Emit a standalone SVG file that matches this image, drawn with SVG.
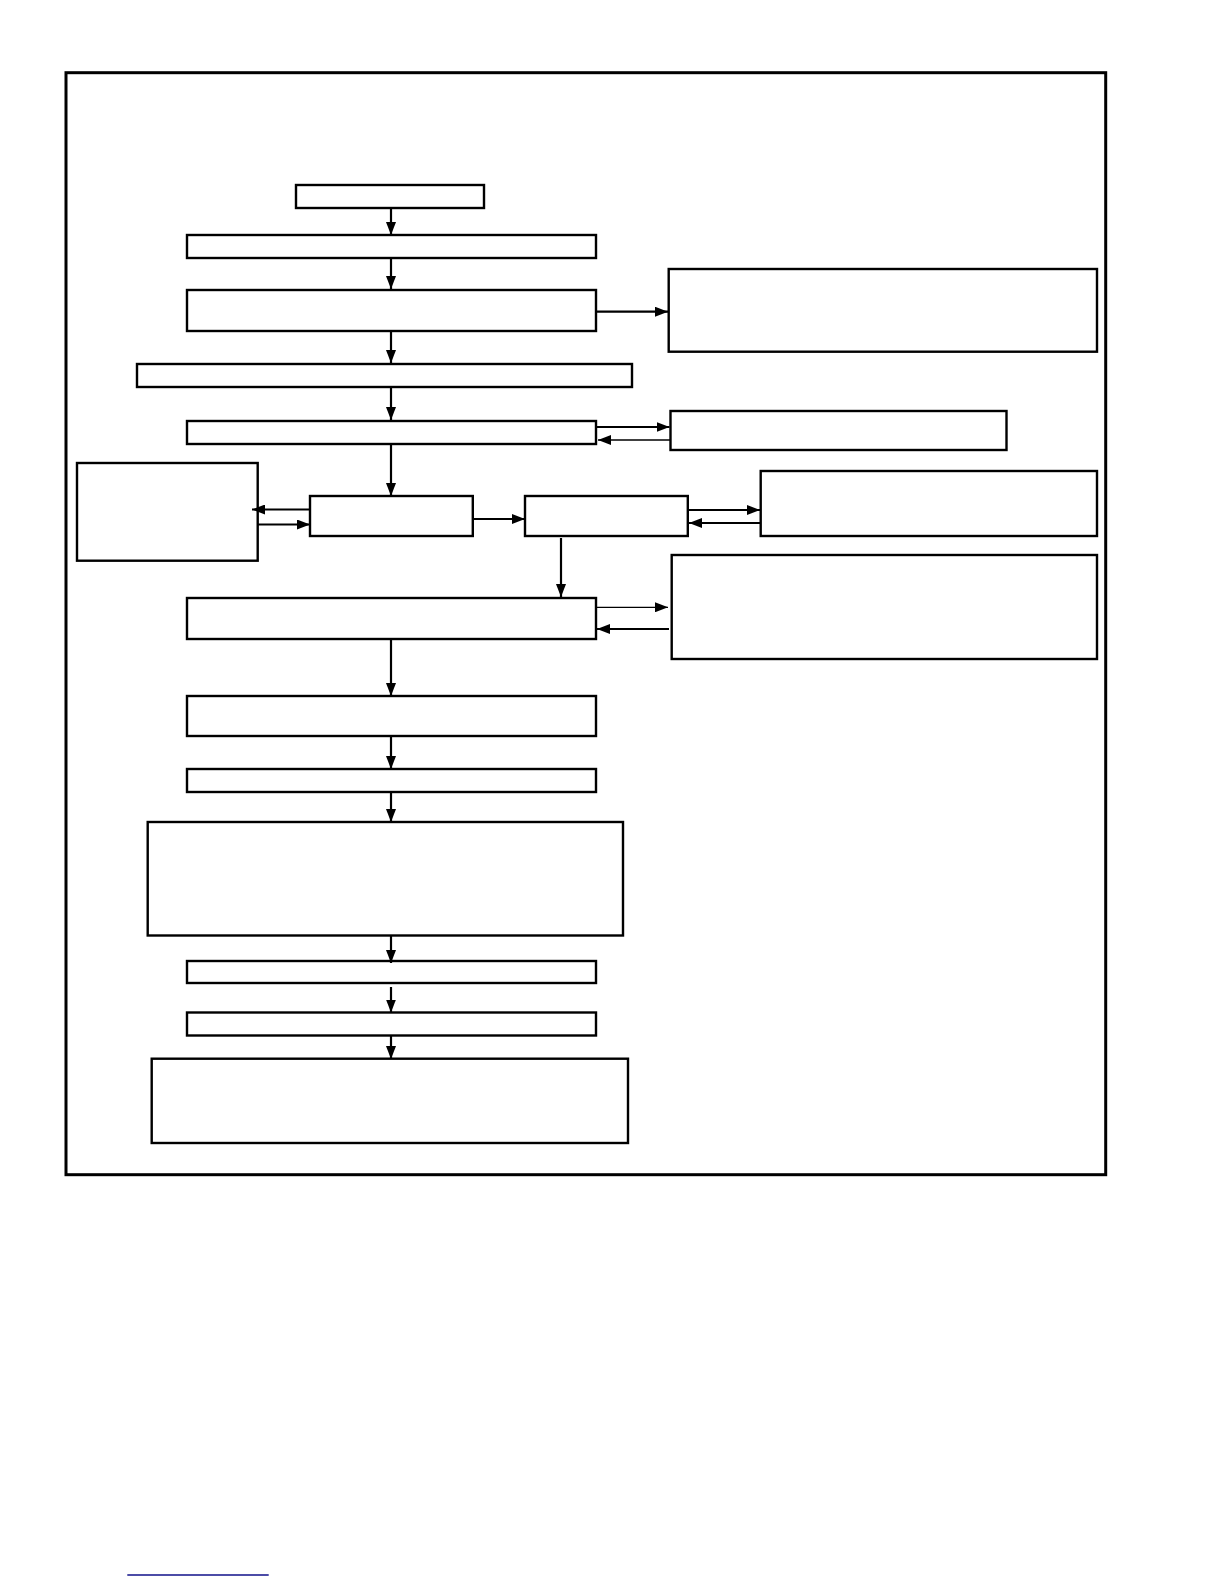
<svg xmlns="http://www.w3.org/2000/svg" width="1224" height="1584" viewBox="0 0 1224 1584">
<style>
.box{fill:#fff;stroke:#000;stroke-width:2.4}
.frame{fill:none;stroke:#000;stroke-width:3}
.c{stroke:#000;stroke-width:2.2;fill:none;marker-end:url(#ah)}
.t{stroke:#000;stroke-width:1.3;fill:none;marker-end:url(#ah)}
</style>
<defs>
<marker id="ah" viewBox="0 0 13 10" refX="13" refY="5" markerWidth="13" markerHeight="10" markerUnits="userSpaceOnUse" orient="auto">
<path d="M0,0 L13,5 L0,10 z" fill="#000"/>
</marker>
</defs>
<rect width="1224" height="1584" fill="#fff"/>
<rect class="frame" x="66" y="72.7" width="1039.7" height="1102"/>
<g id="nodes">
<g id="nA"><rect class="box" x="296" y="185" width="188" height="23"/></g>
<g id="nB"><rect class="box" x="187" y="235" width="409" height="23"/></g>
<g id="nC"><rect class="box" x="187" y="290" width="409" height="41"/></g>
<g id="nR1"><rect class="box" x="668.7" y="269" width="428.3" height="82.7"/></g>
<g id="nD"><rect class="box" x="137" y="364" width="495" height="23"/></g>
<g id="nE"><rect class="box" x="187" y="421" width="409" height="23"/></g>
<g id="nR2"><rect class="box" x="670.5" y="411" width="336" height="39"/></g>
<g id="nL"><rect class="box" x="77" y="463" width="180.7" height="97.7"/></g>
<g id="nF"><rect class="box" x="310" y="496" width="162.8" height="40"/></g>
<g id="nG"><rect class="box" x="525" y="496" width="162.8" height="40"/></g>
<g id="nR3"><rect class="box" x="760.7" y="471" width="336.3" height="65"/></g>
<g id="nR4"><rect class="box" x="671.7" y="555" width="425.3" height="104"/></g>
<g id="nH"><rect class="box" x="187" y="598" width="409" height="41"/></g>
<g id="nI"><rect class="box" x="187" y="696" width="409" height="40"/></g>
<g id="nJ"><rect class="box" x="187" y="769" width="409" height="23"/></g>
<g id="nK"><rect class="box" x="147.7" y="822" width="475.3" height="113.5"/></g>
<g id="nM"><rect class="box" x="187" y="961" width="409" height="22"/></g>
<g id="nN"><rect class="box" x="187" y="1012.5" width="409" height="23"/></g>
<g id="nO"><rect class="box" x="151.7" y="1058.7" width="476.3" height="84.3"/></g>
</g>
<g id="connectors">
<line class="c" x1="391" y1="208" x2="391" y2="235"/>
<line class="c" x1="391" y1="258" x2="391" y2="289"/>
<line class="c" x1="596" y1="311.7" x2="668" y2="311.7"/>
<line class="c" x1="391" y1="331" x2="391" y2="363"/>
<line class="c" x1="391" y1="387" x2="391" y2="420"/>
<line class="c" x1="596" y1="427" x2="669.5" y2="427"/>
<line class="t" x1="670" y1="440" x2="598" y2="440"/>
<line class="c" x1="391" y1="444" x2="391" y2="496"/>
<line class="c" x1="310" y1="509.5" x2="252" y2="509.5"/>
<line class="c" x1="258" y1="524.5" x2="310" y2="524.5"/>
<line class="c" x1="473" y1="519" x2="525" y2="519"/>
<line class="c" x1="688" y1="510" x2="760" y2="510"/>
<line class="c" x1="760" y1="523" x2="689" y2="523"/>
<line class="c" x1="561" y1="538" x2="561" y2="597"/>
<line class="t" x1="596" y1="607.3" x2="668" y2="607.3"/>
<line class="c" x1="669" y1="629" x2="597" y2="629"/>
<line class="c" x1="391" y1="639" x2="391" y2="696"/>
<line class="c" x1="391" y1="736" x2="391" y2="769"/>
<line class="c" x1="391" y1="792" x2="391" y2="822"/>
<line class="c" x1="391" y1="936" x2="391" y2="963"/>
<line class="c" x1="391" y1="987" x2="391" y2="1012.5"/>
<line class="c" x1="391" y1="1036" x2="391" y2="1059"/>
</g>
<line x1="127.3" y1="1575" x2="268.7" y2="1575" stroke="#10108a" stroke-width="1.6"/>
</svg>
